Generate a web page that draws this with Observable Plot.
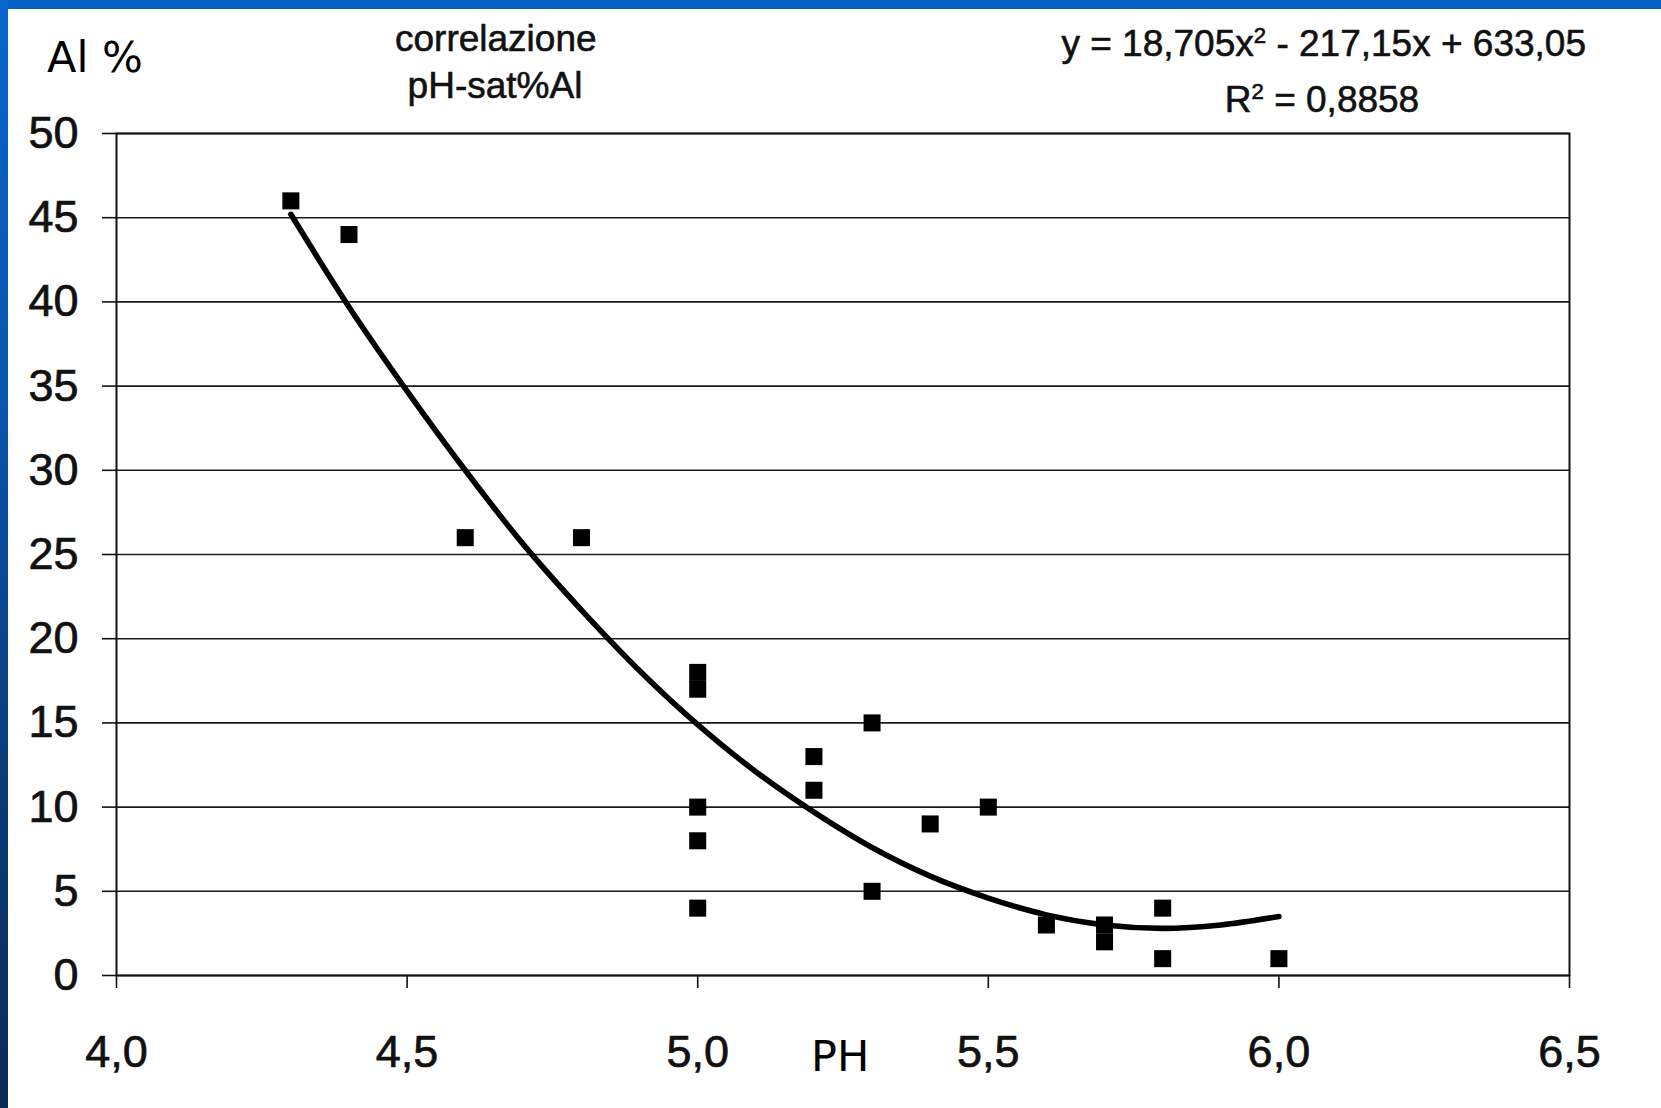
<!DOCTYPE html>
<html>
<head>
<meta charset="utf-8">
<script src="https://cdn.jsdelivr.net/npm/d3@7"></script>
<script src="https://cdn.jsdelivr.net/npm/@observablehq/plot@0.6"></script>
<style>
  html, body { margin: 0; padding: 0; background: #ffffff; }
  #page { position: relative; width: 1661px; height: 1108px; overflow: hidden; background: #ffffff; }
  #topbar { position: absolute; left: 0; top: 0; width: 1661px; height: 9px; background: #0662c6; }
  #leftbar { position: absolute; left: 0; top: 0; width: 8px; height: 1108px;
    background: linear-gradient(to bottom, #0866cc 0%, #0a55b0 35%, #0a3f80 65%, #0b2a55 100%); }
  .lbl { position: absolute; line-height: 1; white-space: nowrap; color: #111; }
  .arial { font-family: "Liberation Sans", Arial, sans-serif; font-size: 37px; -webkit-text-stroke: 0.6px #111; }
  .verd { font-family: "DejaVu Sans", Verdana, sans-serif; font-size: 43px; color: #000; }
  sup { font-size: 0.6em; vertical-align: 0; position: relative; top: -0.6em; }
  #chart svg g[aria-label="y-axis tick label"] text,
  #chart svg g[aria-label="x-axis tick label"] text { stroke: #111; stroke-width: 0.7px; }
</style>
</head>
<body>
<div id="page">
  <div id="chart"></div>
  <div id="topbar"></div>
  <div id="leftbar"></div>
  <div class="lbl verd" style="left:47px; top:36px;">Al %</div>
  <div class="lbl arial" style="left:395px; width:200px; text-align:center; top:20px;">correlazione</div>
  <div class="lbl arial" style="left:395px; width:200px; text-align:center; top:67px;">pH-sat%Al</div>
  <div class="lbl arial" style="left:1000px; width:586px; text-align:right; top:25px;">y = 18,705x<sup>2</sup> - 217,15x + 633,05</div>
  <div class="lbl arial" style="left:1122px; width:400px; text-align:center; top:81px;">R<sup>2</sup> = 0,8858</div>
  <div class="lbl verd" style="left:811px; top:1035px;">PH</div>
</div>
<script>
// Observed points (pH, Al saturation %)
const pH = [4.3, 4.4, 4.6, 4.8, 5.0, 5.0, 5.0, 5.0, 5.0, 5.2, 5.2, 5.3, 5.3, 5.4, 5.5, 5.6, 5.7, 5.7, 5.8, 5.8, 6.0];
const alPct = [46, 44, 26, 26, 18, 17, 10, 8, 4, 13, 11, 15, 5, 9, 10, 3, 3, 2, 4, 1, 1];

// Trend curve
const curveX = [4.3, 4.4, 4.5, 4.6, 4.7, 4.8, 4.9, 5.0, 5.1, 5.2, 5.3, 5.4, 5.5, 5.6, 5.7, 5.8, 5.9, 6.0];
const curveY = [45.2, 39.7, 34.7, 30.0, 25.6, 21.7, 18.1, 14.9, 12.1, 9.7, 7.6, 5.9, 4.6, 3.6, 3.0, 2.8, 3.0, 3.5];

// Ticks
const xTicks = [4.0, 4.5, 5.0, 5.5, 6.0, 6.5];
const yTicks = [0, 5, 10, 15, 20, 25, 30, 35, 40, 45, 50];

const points = pH.map((x, i) => ({x, y: alPct[i]}));
const curve = curveX.map((x, i) => ({x, y: curveY[i]}));

const fmt = d => d.toFixed(1).replace(".", ",");

const chart = Plot.plot({
  width: 1661,
  height: 1108,
  marginLeft: 116,
  marginRight: 92,
  marginTop: 133,
  marginBottom: 133,
  style: {background: "transparent", fontFamily: "'Liberation Sans', Arial, sans-serif", color: "#111"},
  x: {domain: [4, 6.5]},
  y: {domain: [0, 50]},
  marks: [
    Plot.ruleY(yTicks, {stroke: "#1a1a1a", strokeWidth: 1.6}),
    Plot.frame({stroke: "#111", strokeWidth: 2}),
    Plot.axisY({ticks: yTicks, tickSize: 14, tickPadding: 24, label: null, fontSize: 45, stroke: "#111", strokeWidth: 1.6, fill: "#111"}),
    Plot.axisX({ticks: xTicks, tickFormat: fmt, tickSize: 13, tickPadding: 47, label: null, fontSize: 45, stroke: "#111", strokeWidth: 1.6, fill: "#111"}),
    Plot.line(curve, {x: "x", y: "y", curve: "catmull-rom", stroke: "#000", strokeWidth: 5.6}),
    Plot.dot(points, {x: "x", y: "y", symbol: "square", r: 9.6, fill: "#000", stroke: "none"})
  ]
});
document.getElementById("chart").appendChild(chart);
</script>
</body>
</html>
